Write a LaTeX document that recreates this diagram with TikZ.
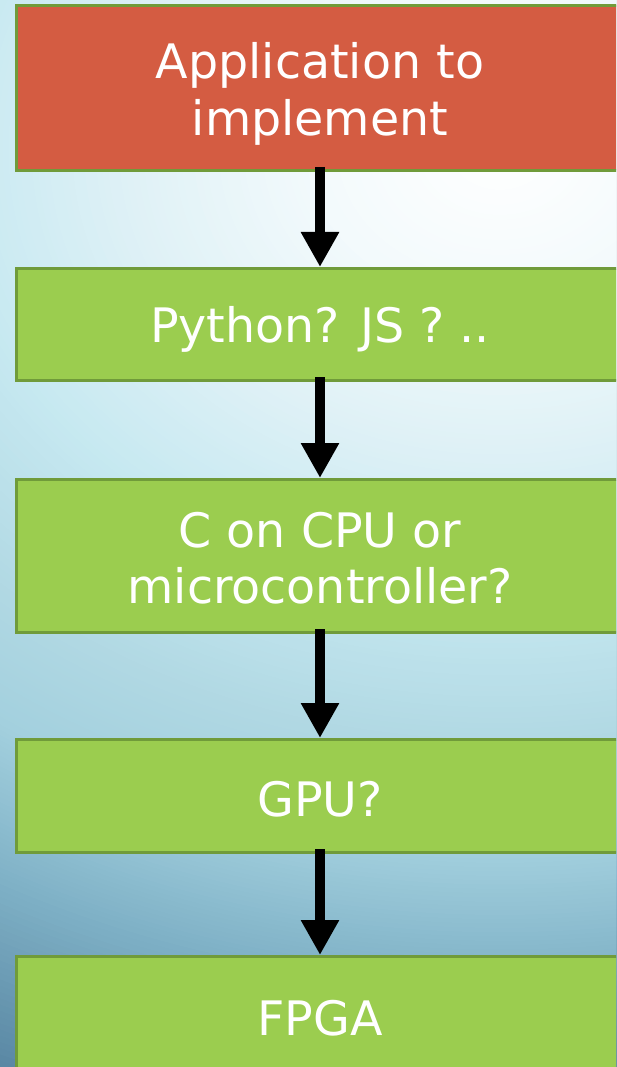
\documentclass[tikz,border=0pt]{standalone}
\usepackage{fontspec}
\setmainfont{DejaVu Sans}
\usetikzlibrary{arrows.meta}

% background gradient stops
\definecolor{g0}{HTML}{FFFFFF}
\definecolor{g1}{HTML}{F3FAFC}
\definecolor{g2}{HTML}{DFF1F6}
\definecolor{g3}{HTML}{C7E9F1}
\definecolor{g4}{HTML}{B0D8E3}
\definecolor{g5}{HTML}{A3D0DE}
\definecolor{g6}{HTML}{80B2C7}
\definecolor{g7}{HTML}{5A88A4}
\definecolor{g8}{HTML}{4F7D9A}
% box colours
\definecolor{boxred}{HTML}{D45C42}
\definecolor{boxgreen}{HTML}{9BCD4F}
\definecolor{boxedge}{HTML}{709B3A}

\tikzset{
  stage/.style={draw=boxedge, line width=3pt, fill=boxgreen,
    minimum width=607pt, inner sep=0pt},
  caption/.style={text=white, align=center, inner sep=0pt,
    font=\fontsize{47.5}{56.5}\selectfont},
  flow/.style={line width=10pt, -{Triangle[width=36pt,length=35pt]},
    shorten <=-5pt}
}

\begin{document}
\begin{tikzpicture}[x=1pt,y=-1pt]
  \useasboundingbox (0,0) rectangle (616,1067);
  \begin{scope}
    \clip (0,0) rectangle (616,1067);
    % elliptical backdrop, brightest towards the upper right
    \foreach \ra/\rb/\ca/\cb in {1000/1150/g7/g8, 830/1000/g6/g7, 700/830/g5/g6,
                                 600/700/g4/g5, 440/600/g3/g4, 300/440/g2/g3,
                                 150/300/g1/g2, 0/150/g0/g1} {
      \foreach \k in {0,...,29} {
        \pgfmathsetmacro\r{\rb-(\rb-\ra)*\k/30}
        \pgfmathtruncatemacro\p{round(100*\k/30)}
        \fill[\ca!\p!\cb] (500,150) ellipse[x radius=1.25*\r pt, y radius=\r pt];
      }
    }

    % stage boxes
    \node[stage, fill=boxred, minimum height=165pt] (app) at (320,88) {};
    \node[stage, minimum height=112pt] (script) at (320,324.5) {};
    \node[stage, minimum height=153pt] (cpu) at (320,556) {};
    \node[stage, minimum height=113pt] (gpu) at (320,796) {};
    \node[stage, minimum height=130pt] (fpga) at (320,1021.5) {};

    % their captions
    \node[caption, yshift=-6pt] (app-t) at (app.center) {Application to\\implement};
    \node[caption, yshift=-5pt] (script-t) at (script.center) {Python? JS ? ..};
    \node[caption, yshift=-2pt] (cpu-t) at (cpu.center) {C on CPU or\\microcontroller?};
    \node[caption, yshift=-3pt] (gpu-t) at (gpu.center) {GPU?};
    \node[caption, yshift=3pt] (fpga-t) at (fpga.center) {FPGA};

    \draw[flow] (app.south) -- (script.north);
    \draw[flow] (script.south) -- (cpu.north);
    \draw[flow] (cpu.south) -- (gpu.north);
    \draw[flow] (gpu.south) -- (fpga.north);
  \end{scope}
\end{tikzpicture}
\end{document}
